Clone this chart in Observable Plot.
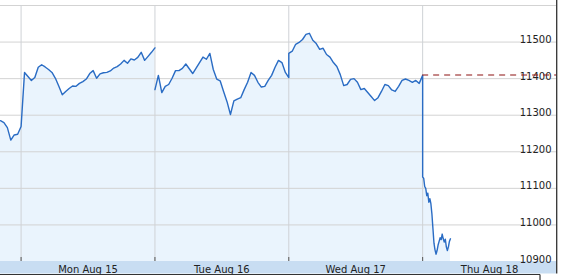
<!DOCTYPE html>
<html>
<head>
<meta charset="utf-8">
<script src="https://cdn.jsdelivr.net/npm/d3@7"></script>
<script src="https://cdn.jsdelivr.net/npm/@observablehq/plot@0.6"></script>
<style>
  html, body { margin: 0; padding: 0; background: #fff; }
  #chart { width: 564px; height: 280px; overflow: hidden; }
</style>
</head>
<body>
<div id="chart"></div>
<script>
// Dow Jones Industrial Average, intraday (minutes after 9:30 open, 390-minute session)
const dayLabels = ["Mon Aug 15", "Tue Aug 16", "Wed Aug 17", "Thu Aug 18"];
const yTickValues = [10900, 11000, 11100, 11200, 11300, 11400, 11500];
const gridValues = [11000, 11100, 11200, 11300, 11400, 11500, 11600];
const prevClose = 11410;

// Fri Aug 12 tail: 10-minute samples from minute 330 to close
const friTail = [11285, 11280, 11266, 11232, 11246, 11248, 11269];
// Mon/Tue/Wed: 10-minute samples, minute 0..390
const mon = [11269, 11417, 11406, 11395, 11403, 11431, 11438, 11432, 11425, 11417,
             11401, 11379, 11356, 11365, 11373, 11380, 11379, 11387, 11392, 11399,
             11414, 11422, 11401, 11413, 11416, 11417, 11421, 11429, 11433, 11440,
             11450, 11442, 11454, 11451, 11458, 11472, 11450, 11461, 11472, 11484];
const tue = [11370, 11409, 11362, 11379, 11384, 11401, 11422, 11422, 11428, 11440,
             11427, 11414, 11429, 11444, 11459, 11453, 11469, 11425, 11399, 11394,
             11365, 11337, 11302, 11339, 11344, 11348, 11370, 11390, 11417, 11409,
             11390, 11377, 11379, 11395, 11409, 11431, 11450, 11444, 11417, 11403];
const wed = [11469, 11475, 11494, 11499, 11507, 11521, 11524, 11505, 11496, 11480,
             11483, 11466, 11459, 11444, 11433, 11411, 11381, 11384, 11398, 11400,
             11390, 11370, 11373, 11362, 11351, 11340, 11348, 11365, 11384, 11381,
             11369, 11365, 11379, 11395, 11399, 11395, 11390, 11395, 11387, 11409];
// Thu Aug 18: 3-minute samples, minute 0..81
const thu = [11131, 11128, 11105, 11100, 11080, 11087, 11062, 11072, 11058, 11030,
             10990, 10950, 10932, 10920, 10930, 10945, 10955, 10965, 10960, 10975,
             10962, 10953, 10961, 10940, 10930, 10940, 10955, 10962];

const sessions = [
  {day: 0, start: 330, step: 10, values: friTail, seg: 0},
  {day: 1, start: 0, step: 10, values: mon, seg: 0},
  {day: 2, start: 0, step: 10, values: tue, seg: 1},
  {day: 3, start: 0, step: 10, values: wed, seg: 1},
  {day: 4, start: 0, step: 3, values: thu, seg: 1}
];
const data = sessions.flatMap(s => s.values.map((v, i) => ({
  t: s.day + (s.start + i * s.step) / 390, v, seg: s.seg
})));

const xMin = 330 / 390, xMax = 5;
const dayStarts = [1, 2, 3, 4];
const dayCenters = [1.5, 2.5, 3.5, 4.5];

const chart = Plot.plot({
  width: 564,
  height: 280,
  marginLeft: 0,
  marginRight: 8,
  marginTop: 5,
  marginBottom: 19,
  x: {domain: [xMin, xMax], axis: null, label: null},
  y: {domain: [10900, 11600], axis: null, label: null},
  style: {fontFamily: "'DejaVu Sans', Verdana, sans-serif", fontSize: "10px", background: "white", color: "#222"},
  marks: [
    Plot.areaY(data, {x: "t", y1: 10900, y2: "v", fill: "#eaf4fd"}),
    Plot.ruleY(gridValues, {stroke: "#d3d3d3"}),
    Plot.ruleX(dayStarts, {stroke: "#cfd2d6"}),
    Plot.ruleX(dayStarts, {stroke: "#555", insetTop: 252}),
    Plot.lineY(data, {x: "t", y: "v", z: "seg", stroke: "#2a6cc4", strokeWidth: 1.4}),
    Plot.text(yTickValues, {x: xMax, y: d => d, text: d => String(d), textAnchor: "end",
      lineAnchor: "bottom", dx: -5, dy: 1, fill: "#222"}),
    Plot.ruleY([prevClose], {x1: 4, x2: xMax, stroke: "#8b1111", strokeDasharray: "6,5", strokeWidth: 1.2}),
    Plot.axisX({ticks: dayCenters, tickFormat: d => dayLabels[dayCenters.indexOf(d)],
      tickSize: 0, tickPadding: 4, fill: "#222", label: null})
  ]
});

// chart chrome: date band, bottom rule and right border
const sy = chart.scale("y");
const sx = chart.scale("x");
const bottom = sy.range[0];
const right = sx.range[1];
const svg = d3.select(chart);
svg.insert("rect", ":first-child")
  .attr("x", 0).attr("y", bottom).attr("width", right).attr("height", 12.5)
  .attr("fill", "#c8ddf2");
svg.append("line")
  .attr("x1", 0).attr("x2", right - 16).attr("y1", bottom + 13.5).attr("y2", bottom + 13.5)
  .attr("stroke", "#333").attr("stroke-width", 1.2);
svg.append("line")
  .attr("x1", right + 0.7).attr("x2", right + 0.7).attr("y1", 0).attr("y2", bottom + 12.5)
  .attr("stroke", "#333").attr("stroke-width", 1.3);
svg.append("line")
  .attr("x1", right - 16).attr("x2", right - 16).attr("y1", bottom + 13.5).attr("y2", 280)
  .attr("stroke", "#333").attr("stroke-width", 1.2);

document.getElementById("chart").appendChild(chart);
</script>
</body>
</html>
